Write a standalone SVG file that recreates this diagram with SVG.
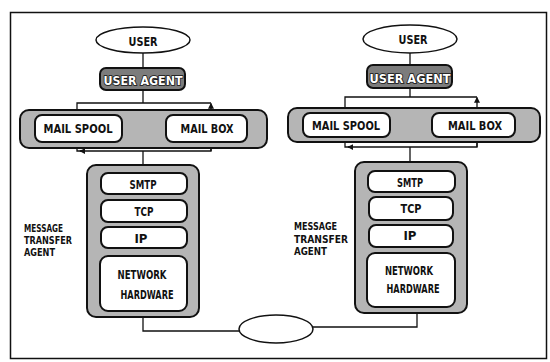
<svg xmlns="http://www.w3.org/2000/svg" width="550" height="362" viewBox="0 0 550 362">
<style>
  .bg { fill: #ffffff; }
  .frame { fill: none; stroke: #111; stroke-width: 1.5; }
  .ell { fill: #ffffff; stroke: #111; stroke-width: 1.5; }
  .dark { fill: #7c7c7c; stroke: #111; stroke-width: 2; }
  .shade { fill: #b5b5b5; stroke: #111; stroke-width: 2; }
  .box { fill: #ffffff; stroke: #111; stroke-width: 2; }
  .conn { fill: none; stroke: #111; stroke-width: 1.3; }
  text { font-family: "Liberation Sans Narrow", "DejaVu Sans Condensed", "Liberation Sans", sans-serif; font-weight: bold; fill: #111; }
  .c { text-anchor: middle; }
  .big { font-size: 13px; }
  .sm { font-size: 12px; }
  .lbl { font-size: 10.5px; }
  .inv { fill: #ffffff; stroke: #111; stroke-width: 1.6; paint-order: stroke; }
</style>
<defs>
  <marker id="ah" viewBox="0 0 8 8" refX="7" refY="4" markerWidth="6" markerHeight="6" orient="auto" markerUnits="userSpaceOnUse">
    <path d="M0,0 L8,4 L0,8 z" fill="#111"/>
  </marker>
</defs>
<rect class="bg" x="0" y="0" width="550" height="362"/>
<rect class="frame" x="10.5" y="12.5" width="536" height="346"/>

<g id="connectors">
  <!-- left column -->
  <path class="conn" d="M143,53 V68"/>
  <path class="conn" d="M143,90 V103"/>
  <path class="conn" d="M77,112 V103 H211"/>
  <path class="conn" d="M211,112 V103.5" marker-end="url(#ah)"/>
  <path class="conn" d="M211,148 V151 H80" marker-end="url(#ah)"/>
  <path class="conn" d="M77,148 V151 H82"/>
  <path class="conn" d="M211,151 V143" marker-end="url(#ah)"/>
  <path class="conn" d="M143,151 V165"/>
  <path class="conn" d="M143,317 V331 H240"/>
  <!-- right column -->
  <path class="conn" d="M410,53 V65"/>
  <path class="conn" d="M410,88 V97"/>
  <path class="conn" d="M345,108 V97 H477"/>
  <path class="conn" d="M477,108 V97.5" marker-end="url(#ah)"/>
  <path class="conn" d="M477,142 V147 H348" marker-end="url(#ah)"/>
  <path class="conn" d="M345,142 V147 H350"/>
  <path class="conn" d="M477,147 V137.5" marker-end="url(#ah)"/>
  <path class="conn" d="M410,147 V162"/>
  <path class="conn" d="M313,327 H417 V313"/>
</g>

<!-- left host -->
<g id="user-left">
  <ellipse class="ell" cx="143" cy="40" rx="47" ry="13"/>
  <text class="c big" x="143" y="46" textLength="29" lengthAdjust="spacingAndGlyphs">USER</text>
</g>
<g id="useragent-left">
  <rect class="dark" x="100" y="68" width="85" height="22" rx="6"/>
  <text class="c big inv" x="143" y="84.5" textLength="79" lengthAdjust="spacingAndGlyphs">USER AGENT</text>
</g>
<g id="mailstore-left">
  <rect class="shade" x="20" y="110" width="247" height="38" rx="9"/>
</g>
<g id="mailspool-left">
  <rect class="box" x="35" y="115" width="87" height="27" rx="7"/>
  <text class="c big" x="78" y="133" textLength="69" lengthAdjust="spacingAndGlyphs">MAIL SPOOL</text>
</g>
<g id="mailbox-left">
  <rect class="box" x="166" y="115" width="81" height="27" rx="7"/>
  <text class="c big" x="207" y="133" textLength="53" lengthAdjust="spacingAndGlyphs">MAIL BOX</text>
</g>
<g id="mta-left">
  <rect class="shade" x="87" y="165" width="112" height="152" rx="9"/>
  <text class="lbl" x="24" y="232" textLength="39" lengthAdjust="spacingAndGlyphs">MESSAGE</text>
  <text class="lbl" x="24" y="244" textLength="48" lengthAdjust="spacingAndGlyphs">TRANSFER</text>
  <text class="lbl" x="24" y="256" textLength="31" lengthAdjust="spacingAndGlyphs">AGENT</text>
</g>
<g id="smtp-left">
  <rect class="box" x="101" y="173" width="86" height="21" rx="7"/>
  <text class="c sm" x="143" y="189" textLength="27" lengthAdjust="spacingAndGlyphs">SMTP</text>
</g>
<g id="tcp-left">
  <rect class="box" x="101" y="200" width="86" height="22" rx="7"/>
  <text class="c sm" x="144" y="216" textLength="19" lengthAdjust="spacingAndGlyphs">TCP</text>
</g>
<g id="ip-left">
  <rect class="box" x="101" y="227" width="86" height="21" rx="7"/>
  <text class="c sm" x="141" y="243" textLength="13" lengthAdjust="spacingAndGlyphs">IP</text>
</g>
<g id="hw-left">
  <rect class="box" x="100" y="256" width="87" height="55" rx="8"/>
  <text class="c sm" x="142" y="279" textLength="49" lengthAdjust="spacingAndGlyphs">NETWORK</text>
  <text class="c sm" x="147" y="299" textLength="53" lengthAdjust="spacingAndGlyphs">HARDWARE</text>
</g>

<!-- network -->
<g id="network">
  <ellipse class="ell" cx="276" cy="329" rx="37" ry="14"/>
</g>

<!-- right host -->
<g id="user-right">
  <ellipse class="ell" cx="410" cy="39" rx="47" ry="14"/>
  <text class="c big" x="413" y="44" textLength="29" lengthAdjust="spacingAndGlyphs">USER</text>
</g>
<g id="useragent-right">
  <rect class="dark" x="367" y="65" width="85" height="23" rx="6"/>
  <text class="c big inv" x="410" y="82.5" textLength="81" lengthAdjust="spacingAndGlyphs">USER AGENT</text>
</g>
<g id="mailstore-right">
  <rect class="shade" x="288" y="108" width="252" height="34" rx="9"/>
</g>
<g id="mailspool-right">
  <rect class="box" x="303" y="113" width="87" height="24" rx="7"/>
  <text class="c big" x="346" y="130" textLength="68" lengthAdjust="spacingAndGlyphs">MAIL SPOOL</text>
</g>
<g id="mailbox-right">
  <rect class="box" x="432" y="113" width="83" height="24" rx="7"/>
  <text class="c big" x="475" y="130" textLength="54" lengthAdjust="spacingAndGlyphs">MAIL BOX</text>
</g>
<g id="mta-right">
  <rect class="shade" x="355" y="162" width="112" height="151" rx="9"/>
  <text class="lbl" x="294" y="230" textLength="43" lengthAdjust="spacingAndGlyphs">MESSAGE</text>
  <text class="lbl" x="294" y="243" textLength="54" lengthAdjust="spacingAndGlyphs">TRANSFER</text>
  <text class="lbl" x="294" y="255" textLength="33" lengthAdjust="spacingAndGlyphs">AGENT</text>
</g>
<g id="smtp-right">
  <rect class="box" x="368" y="171" width="87" height="21" rx="7"/>
  <text class="c sm" x="410" y="187" textLength="26" lengthAdjust="spacingAndGlyphs">SMTP</text>
</g>
<g id="tcp-right">
  <rect class="box" x="369" y="197" width="84" height="23" rx="7"/>
  <text class="c sm" x="411" y="213" textLength="21" lengthAdjust="spacingAndGlyphs">TCP</text>
</g>
<g id="ip-right">
  <rect class="box" x="369" y="225" width="84" height="22" rx="7"/>
  <text class="c sm" x="410" y="240" textLength="13" lengthAdjust="spacingAndGlyphs">IP</text>
</g>
<g id="hw-right">
  <rect class="box" x="367" y="253" width="88" height="54" rx="8"/>
  <text class="c sm" x="409" y="275" textLength="48" lengthAdjust="spacingAndGlyphs">NETWORK</text>
  <text class="c sm" x="413" y="293" textLength="53" lengthAdjust="spacingAndGlyphs">HARDWARE</text>
</g>
</svg>
